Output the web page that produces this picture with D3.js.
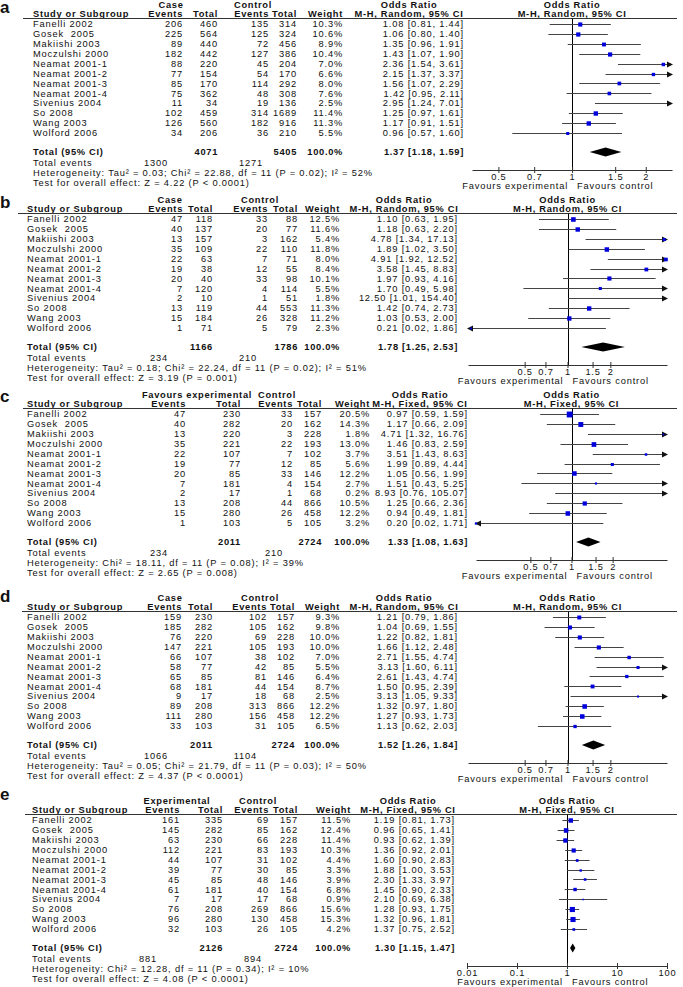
<!DOCTYPE html>
<html>
<head>
<meta charset="utf-8">
<script src="https://cdn.jsdelivr.net/npm/d3@7"></script>
<style>
  body { margin: 0; background: #fff; }
  svg { display: block; }
  svg text {
    font-family: "Liberation Sans", Arial, sans-serif;
    font-size: 9.3px;
    letter-spacing: 0.82px;
    fill: #111;
    white-space: pre;
  }
  svg text.bold { font-weight: bold; letter-spacing: 0.7px; }
  svg text.letter { font-size: 17px; font-weight: bold; letter-spacing: 0; }
</style>
</head>
<body>
<svg id="chart" width="683" height="987"></svg>
<script>
// ---- data ----
const studies = ["Fanelli 2002", "Gosek  2005", "Makiishi 2003", "Moczulshi 2000", "Neamat 2001-1", "Neamat 2001-2",
  "Neamat 2001-3", "Neamat 2001-4", "Sivenius 2004", "So 2008", "Wang 2003", "Wolford 2006"];

// panel a
const aExpEvents = [206, 225, 89, 182, 88, 77, 85, 75, 11, 102, 126, 34];
const aExpTotal = [460, 564, 440, 442, 220, 154, 170, 362, 34, 459, 560, 206];
const aCtrlEvents = [135, 125, 72, 127, 45, 54, 114, 48, 19, 314, 182, 36];
const aCtrlTotal = [314, 324, 456, 386, 204, 170, 292, 308, 136, 1689, 916, 210];
const aWeight = [10.3, 10.6, 8.9, 10.4, 7.0, 6.6, 8.0, 7.6, 2.5, 11.4, 11.3, 5.5];
const aOR = [1.08, 1.06, 1.35, 1.43, 2.36, 2.15, 1.56, 1.42, 2.95, 1.25, 1.17, 0.96];
const aLower = [0.81, 0.80, 0.96, 1.07, 1.54, 1.37, 1.07, 0.95, 1.24, 0.97, 0.91, 0.57];
const aUpper = [1.44, 1.40, 1.91, 1.90, 3.61, 3.37, 2.29, 2.11, 7.01, 1.61, 1.51, 1.60];

// panel b
const bExpEvents = [47, 40, 13, 35, 22, 19, 20, 7, 2, 13, 15, 1];
const bExpTotal = [118, 137, 157, 109, 63, 38, 40, 120, 10, 119, 184, 71];
const bCtrlEvents = [33, 20, 3, 22, 7, 12, 33, 4, 1, 44, 26, 5];
const bCtrlTotal = [88, 77, 162, 110, 71, 55, 98, 114, 51, 553, 328, 79];
const bWeight = [12.5, 11.6, 5.4, 11.8, 8.0, 8.4, 10.1, 5.5, 1.8, 11.3, 11.2, 2.3];
const bOR = [1.10, 1.18, 4.78, 1.89, 4.91, 3.58, 1.97, 1.70, 12.50, 1.42, 1.03, 0.21];
const bLower = [0.63, 0.63, 1.34, 1.02, 1.92, 1.45, 0.93, 0.49, 1.01, 0.74, 0.53, 0.02];
const bUpper = [1.95, 2.20, 17.13, 3.50, 12.52, 8.83, 4.16, 5.98, 154.40, 2.73, 2.00, 1.86];

// panel c
const cExpEvents = [47, 40, 13, 35, 22, 19, 20, 7, 2, 13, 15, 1];
const cExpTotal = [230, 282, 220, 221, 107, 77, 85, 181, 17, 208, 280, 103];
const cCtrlEvents = [33, 20, 3, 22, 7, 12, 33, 4, 1, 44, 26, 5];
const cCtrlTotal = [157, 162, 228, 193, 102, 85, 146, 154, 68, 866, 458, 105];
const cWeight = [20.5, 14.3, 1.8, 13.0, 3.7, 5.6, 12.2, 2.7, 0.2, 10.5, 12.2, 3.2];
const cOR = [0.97, 1.17, 4.71, 1.46, 3.51, 1.99, 1.05, 1.51, 8.93, 1.25, 0.94, 0.20];
const cLower = [0.59, 0.66, 1.32, 0.83, 1.43, 0.89, 0.56, 0.43, 0.76, 0.66, 0.49, 0.02];
const cUpper = [1.59, 2.09, 16.76, 2.59, 8.63, 4.44, 1.99, 5.25, 105.07, 2.36, 1.81, 1.71];

// panel d
const dExpEvents = [159, 185, 76, 147, 66, 58, 65, 68, 9, 89, 111, 33];
const dExpTotal = [230, 282, 220, 221, 107, 77, 85, 181, 17, 208, 280, 103];
const dCtrlEvents = [102, 105, 69, 105, 38, 42, 81, 44, 18, 313, 156, 31];
const dCtrlTotal = [157, 162, 228, 193, 102, 85, 146, 154, 68, 866, 458, 105];
const dWeight = [9.3, 9.8, 10.0, 10.0, 7.0, 5.5, 6.4, 8.7, 2.5, 12.2, 12.2, 6.5];
const dOR = [1.21, 1.04, 1.22, 1.66, 2.71, 3.13, 2.61, 1.50, 3.13, 1.32, 1.27, 1.13];
const dLower = [0.79, 0.69, 0.82, 1.12, 1.55, 1.60, 1.43, 0.95, 1.05, 0.97, 0.93, 0.62];
const dUpper = [1.86, 1.55, 1.81, 2.48, 4.74, 6.11, 4.74, 2.39, 9.33, 1.80, 1.73, 2.03];

// panel e
const eExpEvents = [161, 145, 63, 112, 44, 39, 45, 61, 7, 76, 96, 32];
const eExpTotal = [335, 282, 230, 221, 107, 77, 85, 181, 17, 208, 280, 103];
const eCtrlEvents = [69, 85, 66, 83, 31, 30, 48, 40, 17, 269, 130, 26];
const eCtrlTotal = [157, 162, 228, 193, 102, 85, 146, 154, 68, 866, 458, 105];
const eWeight = [11.5, 12.4, 11.4, 10.3, 4.4, 3.3, 3.9, 6.8, 0.9, 15.6, 15.3, 4.2];
const eOR = [1.19, 0.96, 0.93, 1.36, 1.60, 1.88, 2.30, 1.45, 2.10, 1.28, 1.32, 1.37];
const eLower = [0.81, 0.65, 0.62, 0.92, 0.90, 1.00, 1.33, 0.90, 0.69, 0.93, 0.96, 0.75];
const eUpper = [1.73, 1.41, 1.39, 2.01, 2.83, 3.53, 3.97, 2.33, 6.38, 1.75, 1.81, 2.52];

const panelLetters = ["a", "b", "c", "d", "e"];
const groupHeaders = [["Case", "Control"], ["Case", "Control"], ["Favours experimental", "Control"],
  ["Case", "Control"], ["Experimental", "Control"]];
const methodLabels = ["M-H, Random, 95% CI", "M-H, Random, 95% CI", "M-H, Fixed, 95% CI",
  "M-H, Random, 95% CI", "M-H, Fixed, 95% CI"];
const totalN = [[4071, 5405], [1166, 1786], [2011, 2724], [2011, 2724], [2126, 2724]];
const totalOR = [[1.37, 1.18, 1.59], [1.78, 1.25, 2.53], [1.33, 1.08, 1.63], [1.52, 1.26, 1.84], [1.30, 1.15, 1.47]];
const totalEvents = [[1300, 1271], [234, 210], [234, 210], [1066, 1104], [881, 894]];
const heterogeneity = [
  "Heterogeneity: Tau² = 0.03; Chi² = 22.88, df = 11 (P = 0.02); I² = 52%",
  "Heterogeneity: Tau² = 0.18; Chi² = 22.24, df = 11 (P = 0.02); I² = 51%",
  "Heterogeneity: Chi² = 18.11, df = 11 (P = 0.08); I² = 39%",
  "Heterogeneity: Tau² = 0.05; Chi² = 21.79, df = 11 (P = 0.03); I² = 50%",
  "Heterogeneity: Chi² = 12.28, df = 11 (P = 0.34); I² = 10%"
];
const overallEffect = [
  "Test for overall effect: Z = 4.22 (P < 0.0001)",
  "Test for overall effect: Z = 3.19 (P = 0.001)",
  "Test for overall effect: Z = 2.65 (P = 0.008)",
  "Test for overall effect: Z = 4.37 (P < 0.0001)",
  "Test for overall effect: Z = 4.08 (P < 0.0001)"
];
const axisTicks = [[0.5, 0.7, 1, 1.5, 2], [0.5, 0.7, 1, 1.5, 2], [0.5, 0.7, 1, 1.5, 2],
  [0.5, 0.7, 1, 1.5, 2], [0.01, 0.1, 1, 10, 100]];
const axisDomains = [[0.39, 2.56], [0.2, 5], [0.2, 5], [0.2, 5], [0.01, 100]];

const panelData = [
  [aExpEvents, aExpTotal, aCtrlEvents, aCtrlTotal, aWeight, aOR, aLower, aUpper],
  [bExpEvents, bExpTotal, bCtrlEvents, bCtrlTotal, bWeight, bOR, bLower, bUpper],
  [cExpEvents, cExpTotal, cCtrlEvents, cCtrlTotal, cWeight, cOR, cLower, cUpper],
  [dExpEvents, dExpTotal, dCtrlEvents, dCtrlTotal, dWeight, dOR, dLower, dUpper],
  [eExpEvents, eExpTotal, eCtrlEvents, eCtrlTotal, eWeight, eOR, eLower, eUpper]
];

// ---- layout (each panel was pasted with slightly different column positions) ----
const layout = [
  { top: 0,   letterY: 12.5, nameX: 33, ruleX: 23, cols: [183, 218, 269, 297, 343], groups: [171, 253], evX: [168, 263], orRight: 464, orHead: 409, plot: [472, 672] },
  { top: 195, letterY: 13, nameX: 27, ruleX: 18, cols: [183, 213, 268, 298, 340], groups: [170, 260], evX: [168, 257], orRight: 458, orHead: 404, plot: [468, 667] },
  { top: 390, letterY: 12, nameX: 27, ruleX: 23, cols: [186, 241, 293, 322, 370], groups: [197, 277], evX: [168, 283], orRight: 468, orHead: 420, plot: [476, 667] },
  { top: 593, letterY: 9,  nameX: 27, ruleX: 22, cols: [182, 213, 267, 295, 340], groups: [170, 260], evX: [168, 257], orRight: 458, orHead: 404, plot: [468, 667] },
  { top: 796, letterY: 4,  nameX: 32, ruleX: 25, cols: [180, 223, 269, 298, 351], groups: [177, 258], evX: [157, 262], orRight: 455, orHead: 408, plot: [467, 667] }
];

const svg = d3.select("#chart");
const fmt2 = d3.format(".2f");
const orText = (o, l, u) => `${fmt2(o)} [${fmt2(l)}, ${fmt2(u)}]`;

function txt(g, x, y, s, anchor, bold) {
  return g.append("text")
    .attr("x", x).attr("y", y).attr("dy", "0.35em")
    .attr("text-anchor", anchor || "start")
    .attr("class", bold ? "bold" : null)
    .text(s);
}

function drawPanel(k) {
  const L = layout[k];
  const [expEv, expTot, ctrlEv, ctrlTot, weight, or, lower, upper] = panelData[k];
  const g = svg.append("g").attr("transform", `translate(0,${L.top})`);
  const x = d3.scaleLog().domain(axisDomains[k]).range(L.plot);
  const y = d3.scalePoint().domain(studies).range([24, 24 + 9.9 * 11]);
  const [dMin, dMax] = axisDomains[k];
  const x1 = Math.round(x(1)) + 0.5;
  const axisY = 170;

  g.append("text").attr("class", "letter").attr("x", 0).attr("y", L.letterY).text(panelLetters[k]);

  // headers
  txt(g, L.groups[0], 4.5, groupHeaders[k][0], "middle", true);
  txt(g, L.groups[1], 4.5, groupHeaders[k][1], "middle", true);
  txt(g, L.orHead, 4.5, "Odds Ratio", "middle", true);
  txt(g, x(1), 4.5, "Odds Ratio", "middle", true);
  txt(g, L.nameX, 14, "Study or Subgroup", "start", true);
  ["Events", "Total", "Events", "Total", "Weight"].forEach((h, j) => txt(g, L.cols[j], 14, h, "end", true));
  txt(g, L.orHead, 14, methodLabels[k], "middle", true);
  txt(g, x(1), 14, methodLabels[k], "middle", true);
  g.append("line").attr("x1", L.ruleX).attr("x2", 677).attr("y1", 18.5).attr("y2", 18.5)
    .attr("stroke", "#333").attr("stroke-width", 1);

  // study rows
  studies.forEach((s, i) => {
    const cy = y(s);
    txt(g, L.nameX, cy, s);
    [expEv[i], expTot[i], ctrlEv[i], ctrlTot[i]].forEach((v, j) => txt(g, L.cols[j], cy, String(v), "end"));
    txt(g, L.cols[4], cy, weight[i].toFixed(1) + "%", "end");
    txt(g, L.orRight, cy, orText(or[i], lower[i], upper[i]), "end");
  });

  // line of no effect
  g.append("line").attr("x1", x1).attr("x2", x1).attr("y1", 18.5).attr("y2", axisY)
    .attr("stroke", "#000").attr("stroke-width", 1);

  // confidence intervals
  const rows = g.append("g");
  studies.forEach((s, i) => {
    const cy = Math.round(y(s)) + 0.5;
    const lo = Math.max(lower[i], dMin), hi = Math.min(upper[i], dMax);
    rows.append("line").attr("x1", x(lo)).attr("x2", x(hi)).attr("y1", cy).attr("y2", cy)
      .attr("stroke", "#444").attr("stroke-width", 1);
    if (upper[i] > dMax) {
      const xe = x(dMax);
      rows.append("path").attr("d", `M${xe + 1},${cy}L${xe - 5},${cy - 3}L${xe - 5},${cy + 3}Z`).attr("fill", "#111");
    }
    if (lower[i] < dMin) {
      const xs = x(dMin);
      rows.append("path").attr("d", `M${xs - 1},${cy}L${xs + 5},${cy - 3}L${xs + 5},${cy + 3}Z`).attr("fill", "#111");
    }
    if (or[i] >= dMin && or[i] <= dMax) {
      const sz = Math.max(1.5, 1.3 * Math.sqrt(weight[i]));
      rows.append("rect").attr("x", x(or[i]) - sz / 2).attr("y", cy - sz / 2)
        .attr("width", sz).attr("height", sz).attr("fill", "#0000dd");
    }
  });

  // totals
  const ty = 152;
  txt(g, L.nameX, ty, "Total (95% CI)", "start", true);
  txt(g, L.cols[1], ty, String(totalN[k][0]), "end", true);
  txt(g, L.cols[3], ty, String(totalN[k][1]), "end", true);
  txt(g, L.cols[4], ty, "100.0%", "end", true);
  txt(g, L.orRight, ty, orText(...totalOR[k]), "end", true);
  const [to, tl, tu] = totalOR[k];
  g.append("path")
    .attr("d", `M${x(tl)},${ty}L${x(to)},${ty - 4.5}L${x(tu)},${ty}L${x(to)},${ty + 4.5}Z`)
    .attr("fill", "#000");

  txt(g, L.nameX, 163, "Total events");
  txt(g, L.evX[0], 163, String(totalEvents[k][0]), "end");
  txt(g, L.evX[1], 163, String(totalEvents[k][1]), "end");
  txt(g, L.nameX, 173, heterogeneity[k]);
  txt(g, L.nameX, 183, overallEffect[k]);

  // axis
  const ax = g.append("g").attr("transform", `translate(0,${axisY})`)
    .call(d3.axisBottom(x).tickValues(axisTicks[k]).tickFormat(d => String(d))
      .tickSize(3).tickSizeOuter(0).tickPadding(0));
  ax.attr("color", "#333");
  ax.selectAll(".tick line").attr("y1", -3).attr("y2", 3);

  txt(g, x(1) - 4, axisY + 16, "Favours experimental", "end");
  txt(g, x(1) + 5, axisY + 16, "Favours control", "start");
}

panelLetters.forEach((p, k) => drawPanel(k));
</script>
</body>
</html>
